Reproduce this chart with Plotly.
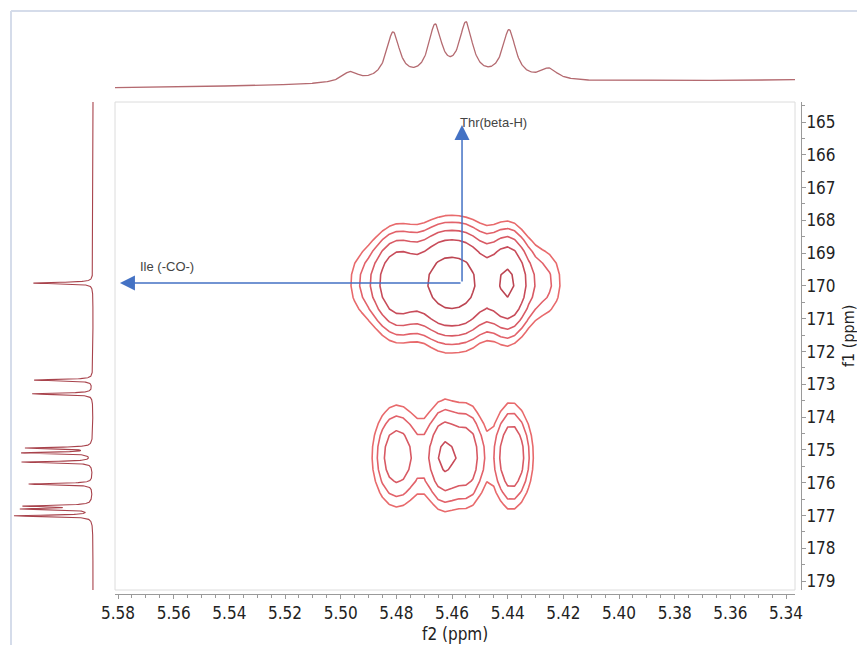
import numpy as np
import plotly.graph_objects as go

# ---------------- data ----------------
# 1H projection (f2 axis, top trace): multiplet peak table
h1_shift = [5.4967, 5.4812, 5.4661, 5.4550, 5.4395, 5.4252]
h1_height = [10.0, 47.5, 51.5, 53.5, 48.5, 11.0]
h1_hwhm = [0.0036, 0.0029, 0.0029, 0.0029, 0.0029, 0.0036]
h1_hump_shift = 5.4610
h1_hump_height = 3.0
h1_hump_hwhm = 0.030
h1_base_ppm = [5.3368, 5.5811]
h1_base_int = [8.0, 0.0]

# 13C projection (f1 axis, left trace): peak table
c13_shift = [169.91, 172.87, 173.29, 174.94, 175.09, 175.37, 176.04, 176.71, 176.80, 177.01]
c13_height = [62, 61, 63, 68, 72, 73, 66, 68, 70, 80]
c13_hwhm = [0.025] * 10
c13_undershoot = [2.0] * 10

# 2D cross peaks: components (f2 ppm, f1 ppm, amplitude, f2 sigma, f1 sigma)
xp_f2 = [5.4949, 5.4794, 5.4640, 5.4539, 5.4399, 5.4259,
         5.4798, 5.4632, 5.4535, 5.4392, 5.4318]
xp_f1 = [169.90, 169.90, 169.90, 169.90, 169.90, 169.90,
         175.20, 175.20, 175.20, 175.20, 175.20]
xp_amp = [0.80, 2.90, 2.70, 2.70, 3.05, 1.30,
          2.05, 2.00, 1.85, 2.12, 0.60]
xp_w2 = [0.00539, 0.00754, 0.00575, 0.00575, 0.00550, 0.00647,
         0.00740, 0.00449, 0.00449, 0.00467, 0.00380]
xp_w1 = [1.10, 1.21, 1.26, 1.26, 1.21, 1.10,
         1.28, 1.28, 1.28, 1.28, 1.20]

contour_levels = [1.0, 1.3, 1.69, 2.2, 3.1]
contour_colors = ['#e86a6c', '#e2626a', '#d85a64', '#c84c5a', '#bc4552']

f2_ticks = [5.58, 5.56, 5.54, 5.52, 5.50, 5.48, 5.46, 5.44, 5.42, 5.40, 5.38, 5.36, 5.34]
f1_ticks = [165, 166, 167, 168, 169, 170, 171, 172, 173, 174, 175, 176, 177, 178, 179]

annot_thr = "Thr(beta-H)"
annot_ile = "Ile (-CO-)"

# ---------------- build traces ----------------
W, H = 857, 645


def px(v):
    return v / W


def py(v):
    return 1 - v / H


f2 = np.arange(5.3365, 5.5812, 0.0002)
top = np.interp(f2, h1_base_ppm, h1_base_int)
for s, h, w in zip(h1_shift, h1_height, h1_hwhm):
    top = top + h / (1 + ((f2 - s) / w) ** 2)
top = top + h1_hump_height / (1 + ((f2 - h1_hump_shift) / h1_hump_hwhm) ** 2)

f1 = np.arange(164.38, 179.28, 0.004)
left = np.zeros_like(f1)
for s, h, w, u in zip(c13_shift, c13_height, c13_hwhm, c13_undershoot):
    left = left + h / (1 + ((f1 - s) / w) ** 2) - u * np.exp(-0.5 * ((f1 - s) / 0.07) ** 2)

g2 = np.arange(5.395, 5.525, 0.0025)
g1 = np.arange(164.4, 179.3, 0.35)
G2, G1 = np.meshgrid(g2, g1)
z = np.zeros_like(G2)
for a, b, amp, w2, w1 in zip(xp_f2, xp_f1, xp_amp, xp_w2, xp_w1):
    z = z + amp * np.exp(-0.5 * ((G2 - a) / w2) ** 2) * np.exp(-0.5 * ((G1 - b) / w1) ** 2)

fig = go.Figure()

fig.add_trace(go.Scatter(x=f2, y=top, xaxis='x', yaxis='y2', mode='lines',
                         line=dict(color='#b46a70', width=1.3),
                         hoverinfo='skip', showlegend=False))
fig.add_trace(go.Scatter(x=left, y=f1, xaxis='x3', yaxis='y', mode='lines',
                         line=dict(color='#a8434c', width=1.1),
                         hoverinfo='skip', showlegend=False))

for lev, col in zip(contour_levels, contour_colors):
    fig.add_trace(go.Contour(x=g2, y=g1, z=z, xaxis='x', yaxis='y',
                             autocontour=False,
                             contours=dict(coloring='none', start=lev, end=lev, size=1,
                                           showlabels=False),
                             line=dict(color=col, width=1.6, smoothing=0),
                             showscale=False, hoverinfo='skip', showlegend=False))

tick_font = dict(family='DejaVu Sans Condensed, Liberation Sans, Arial, sans-serif',
                 size=17, color='#222222')
title_font = dict(family='DejaVu Sans Condensed, Liberation Sans, Arial, sans-serif',
                  size=16, color='#222222')
axis_col = '#9a9a9a'

fig.update_layout(
    width=W, height=H,
    margin=dict(l=0, r=0, t=0, b=0),
    paper_bgcolor='white', plot_bgcolor='white',
    showlegend=False,
    xaxis=dict(domain=[px(115), px(795)], range=[5.58108, 5.33677],
               anchor='free', position=py(594),
               showline=True, linecolor=axis_col, linewidth=1,
               ticks='outside', ticklen=4, tickcolor=axis_col,
               tickmode='array', tickvals=f2_ticks,
               ticktext=['%.2f' % v for v in f2_ticks],
               tickfont=tick_font,
               minor=dict(tickmode='linear', tick0=5.34, dtick=0.005,
                          ticks='outside', ticklen=3, tickcolor=axis_col, showgrid=False),
               showgrid=False, zeroline=False, automargin=False),
    yaxis=dict(domain=[py(590), py(102)], range=[179.27, 164.39],
               anchor='free', position=px(801), side='right',
               showline=True, linecolor=axis_col, linewidth=1,
               ticks='outside', ticklen=4, tickcolor=axis_col,
               ticklabelstandoff=-3,
               tickmode='array', tickvals=f1_ticks,
               ticktext=[str(v) for v in f1_ticks],
               tickfont=tick_font,
               minor=dict(tickmode='linear', tick0=165, dtick=0.5,
                          ticks='outside', ticklen=3, tickcolor=axis_col, showgrid=False),
               showgrid=False, zeroline=False, automargin=False),
    yaxis2=dict(domain=[py(95), py(12)], range=[-7, 76], anchor='x',
                visible=False, showgrid=False, zeroline=False),
    xaxis3=dict(domain=[0, px(100)], range=[93, -7], anchor='y',
                visible=False, showgrid=False, zeroline=False),
)

shapes = [
    dict(type='rect', xref='x domain', yref='y domain', x0=0, x1=1, y0=0, y1=1,
         line=dict(color='#dcdcdc', width=1), layer='below'),
    dict(type='line', xref='paper', yref='paper', x0=px(11), x1=px(11), y0=0, y1=py(11),
         line=dict(color='#d5dcea', width=2)),
    dict(type='line', xref='paper', yref='paper', x0=px(11), x1=1, y0=py(11), y1=py(11),
         line=dict(color='#d5dcea', width=2)),
]
fig.update_layout(shapes=shapes)

arrow_col = '#4472C4'
ann_font = dict(family='Liberation Sans, Arial, sans-serif', size=13, color='#444444')
annotations = [
    # horizontal arrow to Ile carbonyl
    dict(x=5.5793, y=169.91, ax=5.4564, ay=169.91, xref='x', yref='y',
         axref='x', ayref='y', text='', showarrow=True, arrowhead=2,
         arrowsize=2, arrowwidth=1.5, arrowcolor=arrow_col, standoff=0, startstandoff=0),
    # vertical arrow to Thr beta-H
    dict(x=5.4564, y=165.09, ax=5.4564, ay=169.91, xref='x', yref='y',
         axref='x', ayref='y', text='', showarrow=True, arrowhead=2,
         arrowsize=2, arrowwidth=1.5, arrowcolor=arrow_col, standoff=0, startstandoff=0),
    dict(x=5.4580, y=165.0, xref='x', yref='y', text=annot_thr, showarrow=False,
         xanchor='left', yanchor='middle', font=ann_font),
    dict(x=5.5728, y=169.42, xref='x', yref='y', text=annot_ile, showarrow=False,
         xanchor='left', yanchor='middle', font=ann_font),
    dict(x=px(455), y=py(634), xref='paper', yref='paper', text='f2 (ppm)',
         showarrow=False, xanchor='center', yanchor='middle', font=tick_font),
    dict(x=px(848), y=py(336), xref='paper', yref='paper', text='f1 (ppm)',
         showarrow=False, xanchor='center', yanchor='middle', textangle=-90,
         font=title_font),
]
fig.update_layout(annotations=annotations)

fig.write_html("out.html")
